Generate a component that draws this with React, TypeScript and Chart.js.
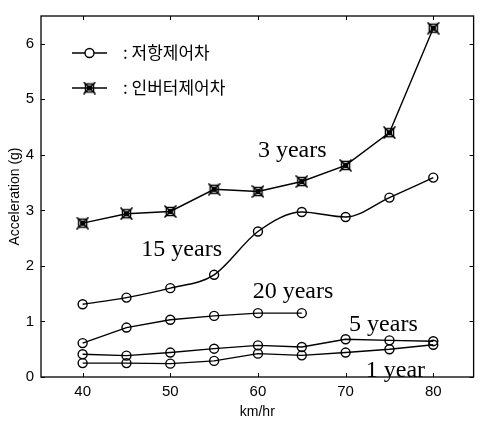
import React, { useEffect, useRef } from "react";
import { Chart, registerables } from "chart.js";

Chart.register(...registerables);

const speeds = [40, 45, 50, 55, 60, 65, 70, 75, 80];
const inverter3Years = [2.77, 2.94, 2.98, 3.38, 3.34, 3.52, 3.81, 4.4, 6.28];
const resist15Years = [1.31, 1.43, 1.6, 1.84, 2.62, 2.97, 2.88, 3.23, 3.59];
const resist20Years = [0.61, 0.89, 1.03, 1.1, 1.15, 1.15];
const resist5Years = [0.41, 0.385, 0.44, 0.51, 0.57, 0.54, 0.68, 0.66, 0.645];
const resist1Year = [0.25, 0.25, 0.24, 0.29, 0.42, 0.39, 0.44, 0.5, 0.58];

const xTickValues = [40, 50, 60, 70, 80];
const yTickValues = [0, 1, 2, 3, 4, 5, 6];

const legendLabels = [": 저항제어차", ": 인버터제어차"];
const annotationTexts = ["3 years", "15 years", "20 years", "5 years", "1 year"];
const annotationX = [60.0, 46.7, 59.4, 70.4, 72.3];
const annotationY = [3.96, 2.18, 1.42, 0.82, 0.0];

function makeBoxX(): HTMLCanvasElement {
  const c = document.createElement("canvas");
  c.width = 13;
  c.height = 13;
  const g = c.getContext("2d")!;
  g.strokeStyle = "#000";
  g.fillStyle = "#000";
  g.lineWidth = 1.5;
  g.strokeRect(2.5, 2.5, 8, 8);
  g.fillRect(4, 4, 5, 5);
  g.beginPath();
  g.moveTo(0.5, 0.5);
  g.lineTo(12.5, 12.5);
  g.moveTo(12.5, 0.5);
  g.lineTo(0.5, 12.5);
  g.stroke();
  return c;
}

export default function App() {
  const ref = useRef<HTMLCanvasElement>(null);

  useEffect(() => {
    const boxX = makeBoxX();
    const toXY = (vals: number[]) => vals.map((v, i) => ({ x: speeds[i], y: v }));
    const lineBase = {
      borderColor: "#000",
      borderWidth: 1.4,
      backgroundColor: "#fff",
      pointBorderColor: "#000",
      pointBackgroundColor: "rgba(255,255,255,0)",
      pointBorderWidth: 1.4,
      fill: false,
      tension: 0,
    };
    const circle = { ...lineBase, pointStyle: "circle" as const, pointRadius: 4.5 };

    const framePlugin = {
      id: "frame",
      afterDraw(chart: any) {
        const { ctx, chartArea } = chart;
        const { left, right, top, bottom } = chartArea;
        const xs = chart.scales.x;
        const ys = chart.scales.y;
        ctx.save();
        ctx.strokeStyle = "#000";
        ctx.lineWidth = 1.3;
        ctx.strokeRect(left, top, right - left, bottom - top);
        ctx.lineWidth = 1;
        ctx.beginPath();
        xTickValues.forEach((v) => {
          const px = Math.round(xs.getPixelForValue(v)) + 0.5;
          ctx.moveTo(px, bottom);
          ctx.lineTo(px, bottom - 4);
          ctx.moveTo(px, top);
          ctx.lineTo(px, top + 4);
        });
        yTickValues.forEach((v) => {
          const py = Math.round(ys.getPixelForValue(v)) + 0.5;
          ctx.moveTo(left, py);
          ctx.lineTo(left + 4, py);
          ctx.moveTo(right, py);
          ctx.lineTo(right - 4, py);
        });
        ctx.stroke();

        // legend
        const legendDs = [chart.data.datasets[1], chart.data.datasets[0]];
        legendDs.forEach((ds: any, i: number) => {
          const y = top + 37 + i * 35;
          const x0 = left + 31;
          const x1 = left + 66;
          ctx.strokeStyle = "#000";
          ctx.lineWidth = 1.4;
          ctx.beginPath();
          ctx.moveTo(x0, y);
          ctx.lineTo(x1, y);
          ctx.stroke();
          const cx = (x0 + x1) / 2;
          if (ds.pointStyle === "circle") {
            ctx.fillStyle = "#fff";
            ctx.beginPath();
            ctx.arc(cx, y, 4.5, 0, Math.PI * 2);
            ctx.fill();
            ctx.stroke();
          } else {
            ctx.drawImage(ds.pointStyle, cx - 6.5, y - 6.5);
          }
          ctx.fillStyle = "#000";
          ctx.font = '17px "Noto Sans CJK KR", sans-serif';
          ctx.textBaseline = "middle";
          ctx.textAlign = "left";
          ctx.fillText(legendLabels[i], left + 82, y);
        });

        // annotations
        ctx.font = '24px "Liberation Serif", serif';
        ctx.textBaseline = "alphabetic";
        ctx.textAlign = "left";
        ctx.fillStyle = "#000";
        annotationTexts.forEach((t, i) => {
          ctx.fillText(t, xs.getPixelForValue(annotationX[i]), ys.getPixelForValue(annotationY[i]));
        });
        ctx.restore();
      },
    };

    const chart = new Chart(ref.current!, {
      type: "line",
      data: {
        datasets: [
          { ...lineBase, label: "3 years", data: toXY(inverter3Years), pointStyle: boxX as any, pointRadius: 6 },
          { ...circle, label: "15 years", data: toXY(resist15Years), cubicInterpolationMode: "monotone" as const },
          { ...circle, label: "20 years", data: toXY(resist20Years) },
          { ...circle, label: "5 years", data: toXY(resist5Years) },
          { ...circle, label: "1 year", data: toXY(resist1Year) },
        ],
      },
      options: {
        animation: false,
        responsive: false,
        layout: { padding: { top: 11, right: 3, left: 0, bottom: 0 } },
        plugins: { legend: { display: false }, tooltip: { enabled: false } },
        scales: {
          x: {
            type: "linear",
            min: 35.25,
            max: 84.6,
            afterBuildTicks: (s: any) => {
              s.ticks = xTickValues.map((v) => ({ value: v }));
            },
            afterFit: (s: any) => {
              s.height = 44;
            },
            grid: { display: false, drawTicks: false },
            border: { display: false },
            ticks: {
              color: "#000",
              padding: 6,
              font: { family: "Liberation Sans", size: 15 },
              maxRotation: 0,
            },
            title: {
              display: true,
              text: "km/hr",
              color: "#000",
              font: { family: "Liberation Sans", size: 14 },
              padding: { top: 0, bottom: 0 },
            },
          },
          y: {
            type: "linear",
            min: 0,
            max: 6.5,
            afterBuildTicks: (s: any) => {
              s.ticks = yTickValues.map((v) => ({ value: v }));
            },
            afterFit: (s: any) => {
              s.width = 41;
            },
            grid: { display: false, drawTicks: false },
            border: { display: false },
            ticks: {
              color: "#000",
              padding: 7,
              font: { family: "Liberation Sans", size: 15 },
            },
            title: {
              display: true,
              text: "Acceleration (g)",
              color: "#000",
              font: { family: "Liberation Sans", size: 14 },
              padding: { top: 7, bottom: 0 },
            },
          },
        },
      },
      plugins: [framePlugin],
    });
    return () => chart.destroy();
  }, []);

  return (
    <div style={{ position: "absolute", left: 0, top: 0, width: 481, height: 421, background: "#fff" }}>
      <canvas ref={ref} width={481} height={421} style={{ width: 481, height: 421 }} />
    </div>
  );
}
